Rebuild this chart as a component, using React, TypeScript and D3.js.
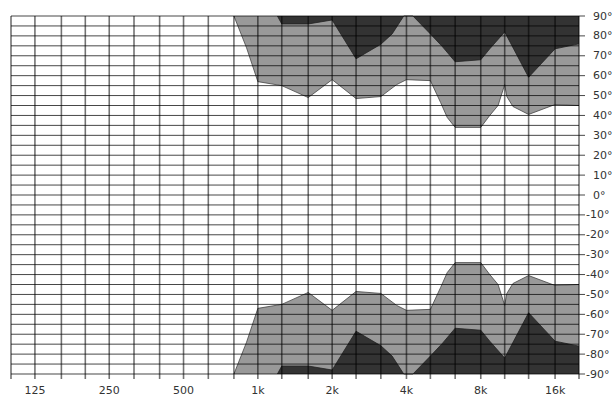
import React from "react";
import * as d3 from "d3";

// 1/3-octave grid frequencies (Hz)
const gridFreqs = [100, 125, 160, 200, 250, 315, 400, 500, 630, 800, 1000, 1250, 1600, 2000, 2500, 3150, 4000, 5000, 6300, 8000, 10000, 12500, 16000, 20000];
const freqLabelValues = [125, 250, 500, 1000, 2000, 4000, 8000, 16000];
const freqLabels = ["125", "250", "500", "1k", "2k", "4k", "8k", "16k"];
const angleLabelValues = [90, 80, 70, 60, 50, 40, 30, 20, 10, 0, -10, -20, -30, -40, -50, -60, -70, -80, -90];

// Outer (light) coverage boundary, degrees off-axis (mirrored below)
const lightFreqs = [800, 900, 1000, 1250, 1600, 2000, 2500, 3150, 3650, 4000, 5000, 5500, 5850, 6300, 8000, 8700, 9400, 10000, 10200, 10800, 12500, 16000, 20000];
const lightAngles = [90, 74, 57, 55, 49, 58, 48.5, 49.5, 55.5, 58, 57.5, 46.5, 39, 34, 34, 40, 45, 55.5, 49.5, 44.5, 40.5, 45.5, 45];

// Inner (dark) boundary
const darkFreqs = [1200, 1250, 1600, 2000, 2500, 3150, 3500, 3900, 4250, 5000, 5600, 6300, 8000, 8700, 10000, 12500, 16000, 20000];
const darkAngles = [90, 86, 86, 88, 68.5, 75.8, 81, 90, 90, 81, 74.5, 67, 68, 73.5, 82, 59.2, 73.5, 76];

const W = 613;
const H = 399;
const L = 11, R = 579, T = 16, B = 374;

export default function App() {
  const x = d3.scaleLog().domain([100, 20000]).range([L, R]);
  const y = d3.scaleLinear().domain([90, -90]).range([T, B]);

  const light = lightFreqs.map((f, i) => ({ f, a: lightAngles[i] }));
  const dark = darkFreqs.map((f, i) => ({ f, a: darkAngles[i] }));

  const areaTop = d3.area<{ f: number; a: number }>()
    .x(d => x(d.f)).y0(() => y(90)).y1(d => y(d.a));
  const areaBot = d3.area<{ f: number; a: number }>()
    .x(d => x(d.f)).y0(() => y(-90)).y1(d => y(-d.a));
  const lineTop = d3.line<{ f: number; a: number }>().x(d => x(d.f)).y(d => y(d.a));
  const lineBot = d3.line<{ f: number; a: number }>().x(d => x(d.f)).y(d => y(-d.a));

  const hLines = d3.range(-90, 91, 5);
  const font = "'DejaVu Sans', sans-serif";

  return (
    <div style={{ position: "fixed", left: 0, top: 0, width: W, height: H, background: "#fff" }}>
      <svg width={W} height={H} style={{ display: "block" }}>
        <rect x={0} y={0} width={W} height={H} fill="#fff" />
        {/* light regions */}
        <path d={areaTop(light) || ""} fill="#999999" />
        <path d={areaBot(light) || ""} fill="#999999" />
        <path d={lineTop(light) || ""} fill="none" stroke="#444" strokeWidth={0.8} />
        <path d={lineBot(light) || ""} fill="none" stroke="#444" strokeWidth={0.8} />
        {/* dark regions */}
        <path d={areaTop(dark) || ""} fill="#333333" />
        <path d={areaBot(dark) || ""} fill="#333333" />
        <path d={lineTop(dark) || ""} fill="none" stroke="#222" strokeWidth={0.8} />
        <path d={lineBot(dark) || ""} fill="none" stroke="#222" strokeWidth={0.8} />
        {/* horizontal grid */}
        {hLines.map(a => (
          <line key={"h" + a} x1={L} x2={R} y1={y(a)} y2={y(a)} stroke="#000" strokeOpacity={0.72} strokeWidth={1} />
        ))}
        {/* vertical grid with bottom ticks */}
        {gridFreqs.map(f => (
          <line key={"v" + f} x1={x(f)} x2={x(f)} y1={T} y2={B + 5} stroke="#000" strokeOpacity={0.55} strokeWidth={1.6} />
        ))}
        {/* right ticks */}
        {angleLabelValues.map(a => (
          <line key={"t" + a} x1={R} x2={R + 6} y1={y(a)} y2={y(a)} stroke="#000" strokeOpacity={0.72} strokeWidth={1} />
        ))}
        {/* angle labels */}
        {angleLabelValues.map(a => (
          <text key={"l" + a} x={a < 0 ? 586 : 593} y={y(a)} dominantBaseline="central" fontFamily={font} fontSize={11} fill="#333">
            {`${a}°`}
          </text>
        ))}
        {/* frequency labels */}
        {freqLabelValues.map((f, i) => (
          <text key={"f" + f} x={x(f)} y={394} textAnchor="middle" fontFamily={font} fontSize={11} fill="#333">
            {freqLabels[i]}
          </text>
        ))}
      </svg>
    </div>
  );
}
